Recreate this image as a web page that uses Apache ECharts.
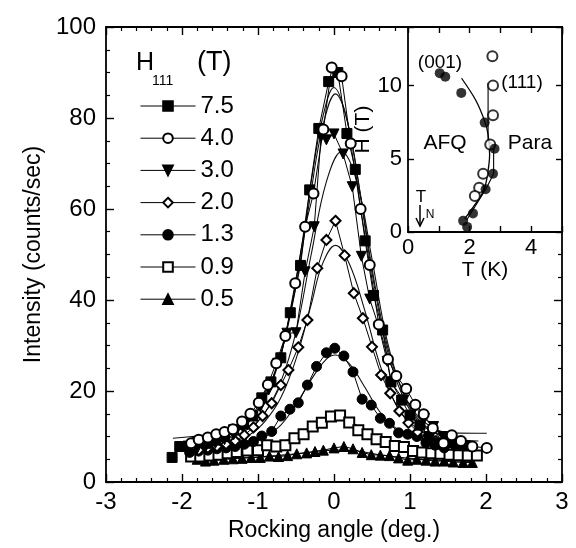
<!DOCTYPE html>
<html><head><meta charset="utf-8">
<script src="https://cdn.jsdelivr.net/npm/echarts@6/dist/echarts.min.js"></script>
<style>html,body{margin:0;padding:0;background:#fff}#c{width:576px;height:548px}</style>
</head><body><div id="c"></div>
<script>
// ---------- main plot: rocking curves, [angle (deg.), intensity (counts/sec)] ----------
const fieldNames = ['7.5', '4.0', '3.0', '2.0', '1.3', '0.9', '0.5'];
const xTickLabels = [-3, -2, -1, 0, 1, 2, 3];
const yTickLabels = [0, 20, 40, 60, 80, 100];

const h75 = [[-2.13,5.4],[-2.03,7.8],[-1.92,7.9],[-1.8,8.9],[-1.68,8.5],[-1.56,9.2],[-1.44,10.0],[-1.32,11.5],[-1.19,12.7],[-1.07,14.5],[-0.95,18.5],[-0.83,22],[-0.7,27.3],[-0.575,37.2],[-0.44,47.6],[-0.32,64.2],[-0.2,77.7],[-0.07,88],[0.05,90],[0.17,76.6],[0.28,68.7],[0.41,53],[0.52,41],[0.64,33.4],[0.75,22],[0.89,18],[1.0,14.7],[1.13,12.5],[1.25,10],[1.38,8.5],[1.5,8.7],[1.62,8.3],[1.72,8.0]];
const h40 = [[-1.88,8.5],[-1.78,9.3],[-1.66,9.8],[-1.55,10.5],[-1.44,11.0],[-1.33,11.6],[-1.21,13.3],[-1.1,15.0],[-0.99,17.4],[-0.87,21.4],[-0.76,26.1],[-0.64,32.1],[-0.51,43.7],[-0.38,56.1],[-0.27,63.4],[-0.14,77.5],[-0.03,91.1],[0.1,89.2],[0.22,74.4],[0.35,60],[0.47,47.7],[0.59,34.6],[0.71,27],[0.82,23.3],[0.95,20.5],[1.07,17],[1.18,14.9],[1.3,11.8],[1.44,8.5],[1.55,10.3],[1.67,9.0],[1.82,7.8],[2.01,7.5]];
const h30 = [[-1.8,7.3],[-1.68,8.0],[-1.56,8.5],[-1.44,9.3],[-1.32,10.4],[-1.2,12.0],[-1.08,14.5],[-0.97,16.5],[-0.86,20.2],[-0.74,26.1],[-0.62,32.7],[-0.5,32.8],[-0.38,46.2],[-0.26,56.1],[-0.17,75.9],[-0.1,75.2],[0.0,76.5],[0.12,72.1],[0.24,64.9],[0.36,49.6],[0.47,40.2],[0.59,34.1],[0.7,26.5],[0.75,22],[0.92,18],[1.07,16.5],[1.19,14],[1.31,12.2],[1.43,10],[1.55,9],[1.67,8.5],[1.79,7.8]];
const h20 = [[-1.78,7.0],[-1.66,7.5],[-1.54,7.8],[-1.42,8.3],[-1.3,9.0],[-1.18,10.3],[-1.06,12.0],[-0.94,14.5],[-0.82,17.3],[-0.7,21.3],[-0.6,24.6],[-0.47,29.6],[-0.35,35.6],[-0.22,47],[-0.1,53.2],[0.02,57.4],[0.14,49.8],[0.26,41.5],[0.38,36],[0.5,29.7],[0.62,23.5],[0.74,19.5],[0.86,15.6],[0.98,13],[1.1,11],[1.22,9.8],[1.34,9.0],[1.46,8.5],[1.58,8.0]];
const h13 = [[-1.9,6.5],[-1.78,6.8],[-1.66,7.0],[-1.54,7.3],[-1.42,7.5],[-1.3,7.8],[-1.18,8.3],[-1.06,8.9],[-0.95,10.1],[-0.82,11.1],[-0.7,14.5],[-0.58,16],[-0.47,17.4],[-0.35,21.3],[-0.23,25.4],[-0.1,28.4],[0.01,29.4],[0.13,27.7],[0.25,24.2],[0.37,18.2],[0.49,16.9],[0.61,14],[0.73,12.9],[0.85,10.8],[0.97,10.5],[1.09,10],[1.21,8.6],[1.33,8.1],[1.45,7.5]];
const h09 = [[-1.88,5.6],[-1.76,5.6],[-1.64,5.8],[-1.52,6.0],[-1.4,6.3],[-1.28,6.6],[-1.14,6.9],[-1.0,7.0],[-0.88,8.1],[-0.76,7.8],[-0.64,8.1],[-0.52,9.6],[-0.4,10.5],[-0.28,12.2],[-0.16,13.0],[-0.04,14.4],[0.08,14.6],[0.2,13.1],[0.32,11.4],[0.44,10.5],[0.56,9.4],[0.68,8.8],[0.8,7.9],[0.92,7.7],[1.04,6.8],[1.16,6.5],[1.28,6.3],[1.4,6.2],[1.52,6.0],[1.64,5.9],[1.76,5.8],[1.88,5.8]];
const h05 = [[-1.8,5.0],[-1.69,4.6],[-1.58,4.8],[-1.45,5.0],[-1.33,5.1],[-1.21,5.2],[-1.09,5.4],[-0.97,5.4],[-0.85,5.7],[-0.73,5.6],[-0.61,5.8],[-0.49,6.2],[-0.36,6.4],[-0.25,6.7],[-0.14,7.0],[0.0,7.5],[0.13,7.8],[0.25,7.3],[0.37,6.5],[0.49,6.0],[0.61,5.9],[0.73,5.8],[0.85,5.3],[0.97,4.8],[1.09,5.0],[1.21,4.8],[1.33,4.6],[1.45,4.6],[1.57,4.4],[1.7,4.3],[1.82,4.3]];

// fitted curves
const fit75 = [[-2.0,8.5],[-1.6,9.5],[-1.3,11],[-1.1,13.5],[-0.9,18.5],[-0.7,28],[-0.5,44],[-0.3,66],[-0.15,80],[0.0,86.7],[0.15,81],[0.3,68],[0.5,46],[0.7,29],[0.9,19],[1.1,13.5],[1.3,11],[1.6,9.5],[1.9,9.0]];
const fit40 = [[-2.12,9.6],[-1.6,10.6],[-1.3,11.8],[-1.1,14],[-0.9,19],[-0.7,28],[-0.5,43],[-0.3,64],[-0.15,78],[0.02,85.3],[0.18,79],[0.35,63],[0.5,47],[0.7,30],[0.9,20],[1.1,14.5],[1.3,12],[1.5,10.8],[2.01,10.7]];
const fit30 = [[-1.8,8.5],[-1.4,9.5],[-1.1,12],[-0.9,15.5],[-0.7,22],[-0.5,33],[-0.3,50],[-0.1,66],[0.1,72.6],[0.3,66],[0.5,49],[0.7,31],[0.9,20],[1.1,14],[1.4,10.2],[1.8,9]];
const fit20 = [[-1.8,7.5],[-1.4,8.5],[-1.1,10.5],[-0.9,13.5],[-0.7,18.5],[-0.5,27],[-0.3,39],[-0.15,48],[0.02,52],[0.2,48],[0.4,38],[0.6,26],[0.8,17.5],[1.0,13],[1.3,10],[1.6,8.8]];
const fit13 = [[-1.9,6.5],[-1.4,7.3],[-1.1,8.5],[-0.9,10],[-0.7,12.5],[-0.5,17],[-0.3,22.5],[-0.1,27],[0.02,27.9],[0.2,26],[0.4,21],[0.6,15.5],[0.8,12],[1.0,10],[1.3,8.5],[1.5,8]];
const fit09 = [[-1.9,6.0],[-1.2,6.8],[-0.8,8.2],[-0.5,10],[-0.25,12.3],[0.0,13.8],[0.2,13.3],[0.45,11],[0.7,9],[1.0,7.5],[1.4,6.5],[1.9,6.0]];
const fit05 = [[-1.8,5.0],[-1.0,5.5],[-0.5,6.2],[0.0,7.0],[0.3,6.8],[0.6,6.0],[1.0,5.2],[1.8,4.5]];

// ---------- inset: phase diagram, [T (K), H (T)] ----------
const insetXTicks = [0, 2, 4];
const insetYTicks = [0, 5, 10];
const p001 = [[1.03,10.85],[1.21,10.6],[1.73,9.5],[2.49,7.47],[2.81,5.68],[2.76,3.98],[2.52,2.92],[2.11,1.27],[1.79,0.76],[1.92,0.35]];
const p111 = [[2.74,12.0],[2.76,10.0],[2.76,7.98],[2.67,5.98],[2.44,3.98],[2.31,3.03],[2.17,2.46]];
const line001 = [[1.74,10.5],[2.2,9.0],[2.49,7.57],[2.6,6.65],[2.65,5.27],[2.56,3.66],[2.44,2.74],[1.84,0.9]];
const line111 = [[2.6,10.2],[2.6,6.2],[2.78,5.9],[2.78,4.0],[2.55,3.0],[1.9,0.8]];

const FONT = '"Liberation Sans", Arial, Helvetica, sans-serif';
const chart = echarts.init(document.getElementById('c'));

function pts(name, data, symbol, size, rotate) {
  return {
    name: name, type: 'line', xAxisIndex: 0, yAxisIndex: 0, data: data,
    showLine: false, symbol: symbol, symbolSize: size, symbolRotate: rotate || 0,
    itemStyle: {color: '#000', borderColor: '#000', borderWidth: 1},
    lineStyle: {color: '#000', width: 1},
    z: 3, animation: false
  };
}
function fit(data) {
  return {
    name: 'fit', type: 'line', xAxisIndex: 0, yAxisIndex: 0, data: data,
    smooth: 0.4, symbol: 'none', lineStyle: {color: '#111', width: 1.1},
    z: 2, animation: false, silent: true
  };
}
function mainX(pos, showLabel) {
  return {
    type: 'value', gridIndex: 0, position: pos, min: -3, max: 3, interval: 1,
    axisLine: {show: true, onZero: false, lineStyle: {color: '#000', width: 1.8}},
    axisTick: {show: true, inside: true, length: 8, lineStyle: {color: '#000', width: 1.4}},
    minorTick: {show: true, splitNumber: 5, length: 4, lineStyle: {color: '#000', width: 1.2}},
    splitLine: {show: false},
    axisLabel: {show: showLabel, color: '#000', fontSize: 24, fontFamily: FONT, margin: 8,
      formatter: v => xTickLabels.indexOf(v) >= 0 ? String(v) : ''},
    name: showLabel ? 'Rocking angle (deg.)' : '', nameLocation: 'middle', nameGap: 34,
    nameTextStyle: {color: '#000', fontSize: 23, fontFamily: FONT}
  };
}
function mainY(pos, showLabel) {
  return {
    type: 'value', gridIndex: 0, position: pos, min: 0, max: 100, interval: 20,
    axisLine: {show: true, onZero: false, lineStyle: {color: '#000', width: 1.8}},
    axisTick: {show: true, inside: true, length: 8, lineStyle: {color: '#000', width: 1.4}},
    minorTick: {show: true, splitNumber: 4, length: 4, lineStyle: {color: '#000', width: 1.2}},
    splitLine: {show: false},
    axisLabel: {show: showLabel, color: '#000', fontSize: 24, fontFamily: FONT, margin: 10,
      formatter: v => yTickLabels.indexOf(v) >= 0 ? String(v) : ''},
    name: showLabel ? 'Intensity (counts/sec)' : '', nameLocation: 'middle', nameGap: 61,
    nameTextStyle: {color: '#000', fontSize: 23, fontFamily: FONT}
  };
}
function insetX(pos, showLabel) {
  return {
    type: 'value', gridIndex: 1, position: pos, min: 0, max: 5, interval: 1, z: 10,
    axisLine: {show: true, onZero: false, lineStyle: {color: '#000', width: 1.8}},
    axisTick: {show: true, inside: true, length: 6, lineStyle: {color: '#000', width: 1.4}},
    splitLine: {show: false},
    axisLabel: {show: showLabel, color: '#000', fontSize: 22, fontFamily: FONT, margin: 5,
      formatter: v => insetXTicks.indexOf(v) >= 0 ? String(v) : ''},
    name: showLabel ? 'T (K)' : '', nameLocation: 'middle', nameGap: 28,
    nameTextStyle: {color: '#000', fontSize: 21, fontFamily: FONT}
  };
}
function insetY(pos, showLabel) {
  return {
    type: 'value', gridIndex: 1, position: pos, min: 0, max: 14, interval: 5, z: 10,
    axisLine: {show: true, onZero: false, lineStyle: {color: '#000', width: 1.8}},
    axisTick: {show: true, inside: true, length: 6, lineStyle: {color: '#000', width: 1.4}},
    splitLine: {show: false},
    axisLabel: {show: showLabel, color: '#000', fontSize: 22, fontFamily: FONT, margin: 6,
      formatter: v => insetYTicks.indexOf(v) >= 0 ? String(v) : ''},
    name: showLabel ? 'H (T)' : '', nameLocation: 'middle', nameGap: 12,
    nameTextStyle: {color: '#000', fontSize: 21, fontFamily: FONT}
  };
}

const option = {
  backgroundColor: '#fff',
  animation: false,
  textStyle: {fontFamily: FONT},
  grid: [
    {left: 106, right: 14, top: 27, bottom: 66},
    {left: 408, right: 14, top: 27, bottom: 316}
  ],
  xAxis: [mainX('bottom', true), mainX('top', false), insetX('bottom', true), insetX('top', false)],
  yAxis: [mainY('left', true), mainY('right', false), insetY('left', true), insetY('right', false)],
  legend: {
    data: fieldNames, orient: 'vertical', left: 135, top: 89,
    itemWidth: 55, itemHeight: 12, itemGap: 8.2,
    textStyle: {color: '#000', fontSize: 24, fontFamily: FONT},
    lineStyle: {color: '#000', width: 1, opacity: 1},
    selectedMode: false
  },
  graphic: [
    {type: 'rect', z: 5, shape: {x: 408, y: 27, width: 154, height: 205}, style: {fill: '#fff'}},
    {type: 'text', z: 6, style: {text: 'H', x: 136, y: 63, font: '25px ' + FONT, fill: '#000', verticalAlign: 'middle'}},
    {type: 'text', z: 6, style: {text: '111', x: 152, y: 81, font: '14px ' + FONT, fill: '#000', verticalAlign: 'middle'}},
    {type: 'text', z: 6, style: {text: '(T)', x: 197, y: 63, font: '27px ' + FONT, fill: '#000', verticalAlign: 'middle'}},
    {type: 'text', z: 12, style: {text: '(001)', x: 440, y: 63, font: '19px ' + FONT, fill: '#000', align: 'center', verticalAlign: 'middle'}},
    {type: 'text', z: 12, style: {text: '(111)', x: 522, y: 83, font: '19px ' + FONT, fill: '#000', align: 'center', verticalAlign: 'middle'}},
    {type: 'text', z: 12, style: {text: 'AFQ', x: 445, y: 143, font: '21px ' + FONT, fill: '#000', align: 'center', verticalAlign: 'middle'}},
    {type: 'text', z: 12, style: {text: 'Para', x: 530, y: 143, font: '21px ' + FONT, fill: '#000', align: 'center', verticalAlign: 'middle'}},
    {type: 'text', z: 12, style: {text: 'T', x: 421, y: 197, font: '17px ' + FONT, fill: '#000', align: 'center', verticalAlign: 'middle'}},
    {type: 'text', z: 12, style: {text: 'N', x: 430, y: 215, font: '12px ' + FONT, fill: '#000', align: 'center', verticalAlign: 'middle'}},
    {type: 'polyline', z: 12, shape: {points: [[420, 205], [420, 226]]}, style: {stroke: '#000', lineWidth: 1.5, fill: null}},
    {type: 'polyline', z: 12, shape: {points: [[416, 218], [420, 226], [424, 218]]}, style: {stroke: '#000', lineWidth: 1.5, fill: null}}
  ],
  series: [
    fit(fit05), fit(fit09), fit(fit13), fit(fit20), fit(fit30), fit(fit40), fit(fit75),
    pts('0.5', h05, 'triangle', 10),
    pts('0.9', h09, 'emptyRect', 10),
    pts('1.3', h13, 'circle', 10),
    pts('2.0', h20, 'emptyDiamond', 10),
    pts('3.0', h30, 'triangle', 10, 180),
    pts('7.5', h75, 'rect', 10),
    pts('4.0', h40, 'emptyCircle', 10),
    {name: 'line001', type: 'line', xAxisIndex: 2, yAxisIndex: 2, data: line001, symbol: 'none', smooth: 0.3,
      lineStyle: {color: '#000', width: 1.3}, z: 11},
    {name: 'line111', type: 'line', xAxisIndex: 2, yAxisIndex: 2, data: line111, symbol: 'none',
      lineStyle: {color: '#000', width: 1.1}, z: 11},
    {name: '(111)', type: 'scatter', xAxisIndex: 2, yAxisIndex: 2, data: p111, symbol: 'emptyCircle', symbolSize: 10,
      itemStyle: {color: '#000', borderColor: '#000', borderWidth: 1}, z: 12},
    {name: '(001)', type: 'scatter', xAxisIndex: 2, yAxisIndex: 2, data: p001, symbol: 'circle', symbolSize: 10,
      itemStyle: {color: '#000'}, z: 12}
  ]
};
chart.setOption(option);
</script>
</body></html>
